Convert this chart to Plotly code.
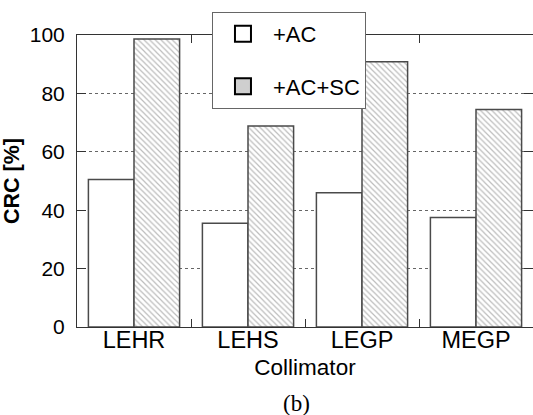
import plotly.graph_objects as go

# Contrast recovery coefficient per collimator
collimators = ["LEHR", "LEHS", "LEGP", "MEGP"]
crc_ac = [50.5, 35.5, 46.0, 37.5]
crc_ac_sc = [98.6, 68.8, 90.8, 74.5]
series_names = ["+AC", "+AC+SC"]

FONT = "Liberation Sans, Arial, sans-serif"
EDGE = "#4a4a4a"

fig = go.Figure()

fig.add_trace(go.Bar(
    x=collimators, y=crc_ac, name=series_names[0], showlegend=False,
    marker=dict(color="white", line=dict(color=EDGE, width=1.5)),
))
fig.add_trace(go.Bar(
    x=collimators, y=crc_ac_sc, name=series_names[1], showlegend=False,
    marker=dict(color="white", line=dict(color=EDGE, width=1.5),
                pattern=dict(shape="\\", fgcolor="#7a7a7a", bgcolor="white",
                             size=4, solidity=0.3)),
))

# Legend entries with large square swatches
fig.add_trace(go.Scatter(
    x=[None], y=[None], mode="markers", name=series_names[0], legendgroup="a",
    marker=dict(symbol="square", size=19, color="white",
                line=dict(color="black", width=2)),
))
fig.add_trace(go.Scatter(
    x=[None], y=[None], mode="markers", name=series_names[1], legendgroup="b",
    marker=dict(symbol="square", size=19, color="#cfcfcf",
                line=dict(color="black", width=2)),
))

fig.update_layout(
    width=533, height=415,
    margin=dict(l=77, r=0, t=35, b=88),
    paper_bgcolor="white", plot_bgcolor="white",
    font=dict(family=FONT, size=21, color="black"),
    barmode="group", bargap=0.2, bargroupgap=0,
    showlegend=True,
    legend=dict(
        x=0.296, y=1.079, xanchor="left", yanchor="top",
        bgcolor="white", bordercolor="#666666", borderwidth=1,
        font=dict(family=FONT, size=22, color="black"),
        tracegroupgap=21, itemsizing="trace", itemwidth=50,
    ),
    xaxis=dict(
        title=dict(text="Collimator", font=dict(size=22.5), standoff=7),
        tickson="boundaries", ticks="inside", ticklen=8, tickcolor="#333333",
        showline=True, linecolor="#333333", linewidth=1, mirror="ticks",
        showgrid=False, tickfont=dict(size=23.5), ticklabelstandoff=-8,
    ),
    yaxis=dict(
        title=dict(text="<b>CRC [%]</b>", font=dict(size=21.5), standoff=9),
        range=[0, 100], dtick=20, ticks="inside", ticklen=9, tickcolor="#333333",
        showline=True, linecolor="#333333", linewidth=1, mirror="ticks",
        showgrid=True, gridcolor="#666666", griddash="dot", gridwidth=1,
        zeroline=False, tickfont=dict(size=21), ticklabelstandoff=7,
    ),
    annotations=[dict(
        text="(b)", x=0.482, y=-0.262, xref="paper", yref="paper",
        xanchor="center", yanchor="middle", showarrow=False,
        font=dict(family="Liberation Serif, Times New Roman, serif",
                  size=23, color="black"),
    )],
)

fig.write_html("out.html")
